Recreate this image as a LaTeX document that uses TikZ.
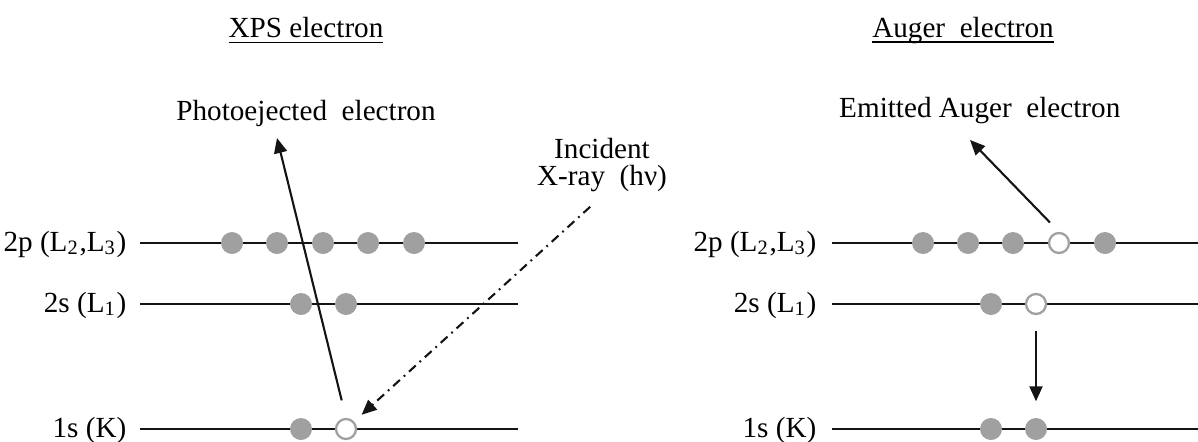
\documentclass[tikz,border=0pt]{standalone}
\usepackage{fontspec}
\setmainfont{Liberation Serif}
\usetikzlibrary{arrows.meta}
\definecolor{lineblack}{RGB}{20,20,20}
\definecolor{elecgray}{RGB}{160,160,160}

\begin{document}
\begin{tikzpicture}[font=\fontsize{8.3}{10}\selectfont,
  lvl/.style={draw=lineblack,line width=0.75pt},
  elec/.style={circle,fill=elecgray,inner sep=0pt,minimum size=2.2mm},
  hole/.style={circle,draw=elecgray,fill=white,line width=0.65pt,inner sep=0pt,minimum size=2.0mm},
  lbl/.style={anchor=mid east,inner sep=0pt},
  arr/.style={-{Triangle[length=1.5mm,width=1.3mm]},line width=0.6pt,draw=lineblack},
  dashdot/.style={dash pattern=on 2.6pt off 1.5pt on 0.5pt off 1.5pt}]
\useasboundingbox (0,0) rectangle (11.98,4.41);
\node[anchor=base] (xpstitle) at (3.06,4.04) {\underline{XPS electron}};
\node[anchor=base] (augtitle) at (9.63,4.04) {\underline{\smash{Auger\ \ electron}}};
\node[lbl] (l2p) at (1.27,1.98) {2p (L\textsubscript{2},L\textsubscript{3})};
\node[lbl] (l2s) at (1.27,1.37) {2s (L\textsubscript{1})};
\node[lbl] (l1s) at (1.27,0.12) {1s (K)};
\draw[lvl] (1.40,1.98) -- (5.18,1.98);
\draw[lvl] (1.40,1.37) -- (5.18,1.37);
\draw[lvl] (1.40,0.12) -- (5.18,0.12);
\foreach \i/\x in {1/2.32,2/2.77,3/3.23,4/3.68,5/4.14}
  \node[elec] (x2p\i) at (\x,1.98) {};
\node[elec] (x2s1) at (3.01,1.37) {};
\node[elec] (x2s2) at (3.46,1.37) {};
\node[elec] (x1s1) at (3.01,0.12) {};
\node[hole] (x1s2) at (3.46,0.12) {};
\node[anchor=base,inner sep=1pt] (photo) at (3.06,3.21) {Photoejected\ \ electron};
\coordinate (phototip) at (2.77,3.03);
\draw[arr,shorten <=1.8mm] (x1s2.north) -- (phototip);
\node[align=center,inner sep=1pt,font=\fontsize{8.3}{7.7}\selectfont] (xray) at (6.02,2.76) {Incident\\X-ray\ \ (hν)};
\draw[arr,dashdot,shorten <=1.6mm,shorten >=1.0mm] (xray.south) -- (x1s2);
\node[lbl] (r2p) at (8.17,1.98) {2p (L\textsubscript{2},L\textsubscript{3})};
\node[lbl] (r2s) at (8.17,1.37) {2s (L\textsubscript{1})};
\node[lbl] (r1s) at (8.17,0.12) {1s (K)};
\draw[lvl] (8.32,1.98) -- (11.98,1.98);
\draw[lvl] (8.32,1.37) -- (11.98,1.37);
\draw[lvl] (8.32,0.12) -- (11.98,0.12);
\foreach \i/\x in {1/9.23,2/9.68,3/10.13,5/11.05}
  \node[elec] (a2p\i) at (\x,1.98) {};
\node[hole] (a2p4) at (10.59,1.98) {};
\node[elec] (a2s1) at (9.91,1.37) {};
\node[hole] (a2s2) at (10.36,1.37) {};
\node[elec] (a1s1) at (9.91,0.12) {};
\node[elec] (a1s2) at (10.36,0.12) {};
\node[anchor=base west,inner sep=1pt] (emit) at (8.35,3.24) {Emitted Auger\ \ electron};
\coordinate (augertip) at (9.70,3.01);
\draw[arr,shorten <=1.3mm] (a2p4.north) -- (augertip);
\draw[arr,shorten <=1.6mm,shorten >=1.6mm] (a2s2) -- (a1s2);
\end{tikzpicture}
\end{document}
